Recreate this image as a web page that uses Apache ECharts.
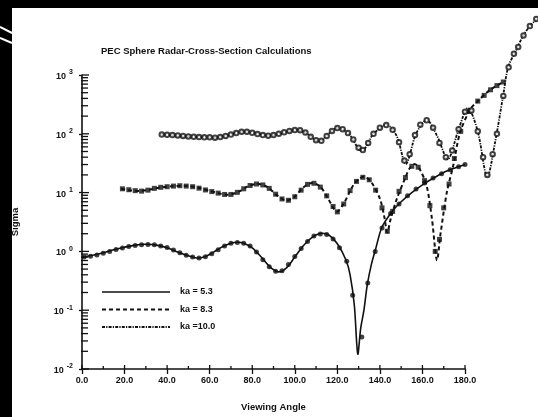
<!DOCTYPE html>
<html>
<head>
<meta charset="utf-8">
<script src="https://cdn.jsdelivr.net/npm/echarts@6/dist/echarts.min.js"></script>
<style>
  html, body { margin: 0; padding: 0; background: #fff; }
  #chart { width: 538px; height: 417px; }
</style>
</head>
<body>
<div id="chart"></div>
<script>
// Bistatic radar cross section of a PEC sphere versus viewing angle (degrees)

// Theoretical curves: [angle, sigma]
var ka53Curve = [
  [0, 0.80], [5, 0.86], [10, 0.95], [15, 1.07], [20, 1.18], [25, 1.28], [30, 1.32],
  [35, 1.28], [40, 1.15], [45, 0.98], [50, 0.84], [54, 0.77], [58, 0.82], [62, 0.98],
  [66, 1.2], [70, 1.38], [73, 1.43], [76, 1.38], [80, 1.15], [84, 0.82], [88, 0.56],
  [92, 0.45], [96, 0.52], [100, 0.8], [104, 1.25], [108, 1.72], [112, 2.02], [116, 1.9],
  [120, 1.35], [124, 0.72], [126, 0.40], [128, 0.12], [129.6, 0.018], [131, 0.05],
  [132.5, 0.1], [134, 0.26], [136, 0.6], [138, 1.1], [141, 2.6], [146, 4.9], [150, 7.0],
  [155, 10], [160, 13.5], [165, 17.5], [170, 22], [175, 26], [180, 30]
];
var ka83Curve = [
  [18.4, 11.6], [22, 11.0], [27, 10.7], [32, 11.3], [36, 12.1], [42, 12.8], [49, 13.0],
  [55, 12.0], [60, 10.7], [65, 9.6], [69.3, 9.2], [74, 10.5], [78, 12.8], [82.5, 14.1],
  [87, 12.5], [92, 8.8], [96, 7.3], [100, 8.6], [104, 12.2], [108, 14.6], [112, 12.6],
  [116, 7.5], [119.7, 4.75], [123, 6.5], [127, 12.5], [130, 17], [133, 18.5], [136, 15],
  [140, 7.9], [142, 4], [143.5, 2.1], [145, 3.5], [148, 7.9], [151.7, 17], [154, 26],
  [156.5, 30.5], [159, 24], [162, 13], [164.5, 3.5], [166.8, 0.71], [168.5, 2.0],
  [171.5, 10.3], [174.4, 28], [177.7, 106], [182.4, 258], [185.7, 350], [191.8, 560],
  [198, 760]
];
var ka100Curve = [
  [37.2, 97], [42, 95], [47, 91], [52, 89], [57, 88], [63, 86], [69, 96], [75.4, 108],
  [81, 103], [88, 93], [94, 103], [101.3, 117], [106, 99], [111.7, 74], [116, 101],
  [120.2, 126], [125, 104], [131.5, 51], [137, 100], [143.3, 142], [148, 90],
  [152.2, 30.5], [157, 100], [162.1, 172], [167, 90], [172, 37], [177, 120],
  [181.4, 275], [186, 110], [190.4, 18.5], [194.2, 74], [198, 460], [200.3, 1365],
  [204.5, 2850], [207.4, 4710], [210.7, 6950], [214, 9120], [218, 12500]
];

// Computed sample points: [angle, sigma]
var ka53Points = [
  [1, 0.80], [4, 0.83], [7, 0.87], [10, 0.93], [13, 1.0], [16, 1.08], [19, 1.14],
  [22, 1.21], [25, 1.26], [28, 1.30], [31, 1.31], [34, 1.30], [37, 1.24], [40, 1.16],
  [43, 1.06], [46, 0.95], [49, 0.86], [52, 0.80], [55, 0.77], [58, 0.81], [61, 0.91],
  [64, 1.07], [67, 1.24], [70, 1.37], [73, 1.42], [76, 1.38], [79, 1.24], [82, 0.98],
  [85, 0.72], [88, 0.55], [91, 0.46], [94, 0.47], [97, 0.60], [100, 0.82], [103, 1.12],
  [106, 1.48], [109, 1.82], [112, 1.98], [115, 1.93], [118, 1.62], [121, 1.15],
  [124.4, 0.68], [127.2, 0.18], [131.5, 0.035], [134.3, 0.29], [137.8, 1.0], [141, 2.5],
  [145, 4.4], [149, 6.4], [153, 8.8], [157, 11.5], [161, 14.5], [165, 17.8], [169, 21],
  [173, 24.5], [177, 27.5], [180, 30]
];
var ka83Points = [
  [19, 11.6], [22, 11.2], [25, 10.8], [28, 10.6], [31, 11.0], [34, 11.8], [37, 12.3],
  [40, 12.6], [43, 12.9], [46, 13.1], [49, 12.9], [52, 12.6], [55, 11.9], [58, 11.1],
  [61, 10.4], [64, 9.8], [67, 9.3], [70, 9.3], [73, 10.1], [76, 11.6], [79, 13.2],
  [82, 14.0], [85, 13.5], [88, 11.8], [91, 9.4], [94, 7.8], [97, 7.4], [100, 8.5],
  [103, 11.0], [106, 13.8], [109, 14.4], [112, 12.4], [115, 8.8], [118, 5.8], [120, 4.7],
  [123, 6.4], [126, 10.8], [129, 15.5], [132, 18.2], [135, 16.5], [138, 11], [141, 5.5],
  [143.5, 2.2], [146, 4.8], [149, 10.5], [152, 18], [155, 28], [158, 27], [161, 16],
  [163.5, 6], [166, 1.0], [168, 1.6], [170, 5.5], [172.5, 14], [175, 38], [178, 110],
  [182, 240], [186, 360], [189, 450], [192, 560], [195, 660], [198, 760]
];
var ka100Points = [
  [37.5, 97], [40, 96], [42.5, 95], [45, 94], [47.5, 92], [50, 90], [52.5, 89], [55, 88],
  [57.5, 87], [60, 87], [62.5, 86], [65, 88], [67.5, 92], [70, 97], [72.5, 103], [75, 108],
  [77.5, 108], [80, 104], [82.5, 99], [85, 95], [87.5, 93], [90, 95], [92.5, 100],
  [95, 106], [97.5, 112], [100, 116], [102.5, 115], [105, 105], [107.5, 89], [110, 78],
  [112.5, 76], [115, 92], [117.5, 112], [120, 125], [122.5, 120], [125, 103], [127.5, 80],
  [130, 58], [132, 53], [134.5, 70], [137, 100], [140, 127], [143, 141], [146, 117],
  [149, 72], [151.5, 35], [154, 45], [156.5, 95], [159, 143], [162, 170], [165, 127],
  [168, 70], [171, 40], [174, 52], [177, 120], [180, 238], [183, 248], [186, 110],
  [188.5, 40], [190.5, 20], [193, 45], [195, 100], [198, 440], [200.5, 1350], [203, 2300],
  [205, 3000], [207.5, 4700], [210.5, 6800], [213.5, 9000]
];

// Legend entries
var legendLabels = ['ka = 5.3', 'ka = 8.3', 'ka =10.0'];

// Axis ticks
var xMajorTicks = [0, 20, 40, 60, 80, 100, 120, 140, 160, 180];
var xMinorTicks = [10, 30, 50, 70, 90, 110, 130, 150, 170];
var yMajorTicks = [0.01, 0.1, 1, 10, 100, 1000];
var yMinorTicks = [];
yMajorTicks.slice(0, 5).forEach(function (d) {
  [2, 3, 4, 5, 6, 7, 8, 9].forEach(function (m) { yMinorTicks.push(+(d * m).toPrecision(3)); });
});

var FONT = '"Liberation Sans", Arial, sans-serif';
var INK = '#111';

var styles = [
  { lineWidth: 1.6, lineDash: null },
  { lineWidth: 2, lineDash: [4, 3] },
  { lineWidth: 1.8, lineDash: [3, 1.2, 1.2, 1.2] }
];

var chart = echarts.init(document.getElementById('chart'), null, { renderer: 'canvas' });

// A whole curve drawn as one smoothed polyline through the axis scales
function curveSeries(name, curve, st) {
  return {
    name: name,
    type: 'custom',
    coordinateSystem: 'cartesian2d',
    clip: false,
    silent: true,
    z: 3,
    data: curve,
    renderItem: function (params, api) {
      if (params.dataIndexInside !== 0) return null;
      var pts = curve.map(function (d) { return api.coord(d); });
      return {
        type: 'polyline',
        shape: { points: pts, smooth: 0.3 },
        style: { stroke: INK, fill: null, lineWidth: st.lineWidth, lineDash: st.lineDash }
      };
    }
  };
}

function tickSeries(name, values, isX, from, to) {
  return {
    name: name,
    type: 'custom',
    coordinateSystem: 'cartesian2d',
    silent: true,
    clip: false,
    z: 5,
    data: values.map(function (v) { return isX ? [v, 0.01] : [0, v]; }),
    renderItem: function (params, api) {
      var p = api.coord([api.value(0), api.value(1)]);
      var shape = isX
        ? { x1: p[0], y1: p[1] - from, x2: p[0], y2: p[1] - to }
        : { x1: p[0] + from, y1: p[1], x2: p[0] + to, y2: p[1] };
      return { type: 'line', shape: shape, style: { stroke: INK, lineWidth: 1.3 } };
    }
  };
}

// Key drawn in the lower-left of the plot
var legendGraphics = [];
legendLabels.forEach(function (label, i) {
  var y = 292 + i * 17.5;
  legendGraphics.push({
    type: 'line', z: 20,
    shape: { x1: 102, y1: y, x2: 170, y2: y },
    style: { stroke: INK, lineWidth: styles[i].lineWidth, lineDash: styles[i].lineDash }
  });
  legendGraphics.push({
    type: 'text', z: 20, x: 180, y: y,
    style: { text: label, fill: INK, font: 'bold 9px ' + FONT, textVerticalAlign: 'middle', verticalAlign: 'middle' }
  });
});

var option = {
  backgroundColor: '#fff',
  animation: false,
  title: {
    text: 'PEC Sphere Radar-Cross-Section Calculations',
    left: 96, top: 41,
    textStyle: { fontFamily: FONT, fontWeight: 'bold', fontSize: 9.5, color: INK }
  },
  grid: { left: 82, right: 73, top: 75, bottom: 45, containLabel: false },
  xAxis: {
    type: 'value', min: 0, max: 180, interval: 20,
    name: 'Viewing Angle', nameLocation: 'middle', nameGap: 33,
    nameTextStyle: { fontFamily: FONT, fontWeight: 'bold', fontSize: 9.5, color: INK },
    axisLine: { lineStyle: { color: INK, width: 1.6 } },
    axisTick: { show: true, length: 5, lineStyle: { color: INK, width: 1.3 } },
    axisLabel: {
      margin: 7, color: INK, fontFamily: FONT, fontWeight: 'bold', fontSize: 9,
      formatter: function (v) { return v.toFixed(1); }
    },
    splitLine: { show: false }
  },
  yAxis: {
    type: 'log', logBase: 10, min: 0.01, max: 1000, splitNumber: 5,
    name: 'Sigma', nameLocation: 'middle', nameGap: 62, nameRotate: 90,
    nameTextStyle: { fontFamily: FONT, fontWeight: 'bold', fontSize: 9.5, color: INK },
    axisLine: { lineStyle: { color: INK, width: 1.6 } },
    axisTick: { show: true, length: 3, lineStyle: { color: INK, width: 1.3 } },
    axisLabel: {
      margin: 9, color: INK,
      formatter: function (v) {
        var e = Math.round(Math.log(v) / Math.LN10);
        return '{b|10}{e|' + (e < 0 ? '-' + (-e) : e) + '}';
      },
      rich: {
        b: { fontFamily: FONT, fontWeight: 'bold', fontSize: 9, color: INK, verticalAlign: 'bottom' },
        e: { fontFamily: FONT, fontWeight: 'bold', fontSize: 7, color: INK, verticalAlign: 'bottom', padding: [0, 0, 5, 3] }
      }
    },
    splitLine: { show: false }
  },
  series: [
    curveSeries('ka = 5.3', ka53Curve, styles[0]),
    curveSeries('ka = 8.3', ka83Curve, styles[1]),
    curveSeries('ka =10.0', ka100Curve, styles[2]),
    {
      name: 'ka53 samples', type: 'scatter', data: ka53Points, clip: false, z: 4,
      symbol: 'circle', symbolSize: 5, itemStyle: { color: INK }
    },
    {
      name: 'ka83 samples', type: 'scatter', data: ka83Points, clip: false, z: 4,
      symbol: 'rect', symbolSize: 5, itemStyle: { color: INK }
    },
    {
      name: 'ka100 samples', type: 'scatter', data: ka100Points, clip: false, z: 4,
      symbol: 'emptyCircle', symbolSize: 4.5,
      itemStyle: { color: INK, borderColor: INK, borderWidth: 1.3 }
    },
    tickSeries('y minor ticks', yMinorTicks, false, -1, 6),
    tickSeries('y major ticks', yMajorTicks, false, 0, 7),
    tickSeries('x major ticks', xMajorTicks, true, 0, 4),
    tickSeries('x minor ticks', xMinorTicks, true, 0, 3)
  ],
  graphic: legendGraphics.concat([
    // scanner border
    { type: 'rect', left: 0, top: 0, z: 100, shape: { width: 12, height: 417 }, style: { fill: '#000' } },
    { type: 'rect', left: 0, top: 0, z: 100, shape: { width: 538, height: 8 }, style: { fill: '#000' } },
    { type: 'line', z: 101, shape: { x1: 0, y1: 27, x2: 12, y2: 33 }, style: { stroke: '#fff', lineWidth: 2 } },
    { type: 'line', z: 101, shape: { x1: 0, y1: 38, x2: 12, y2: 43 }, style: { stroke: '#fff', lineWidth: 2 } }
  ])
};

chart.setOption(option);
</script>
</body>
</html>
